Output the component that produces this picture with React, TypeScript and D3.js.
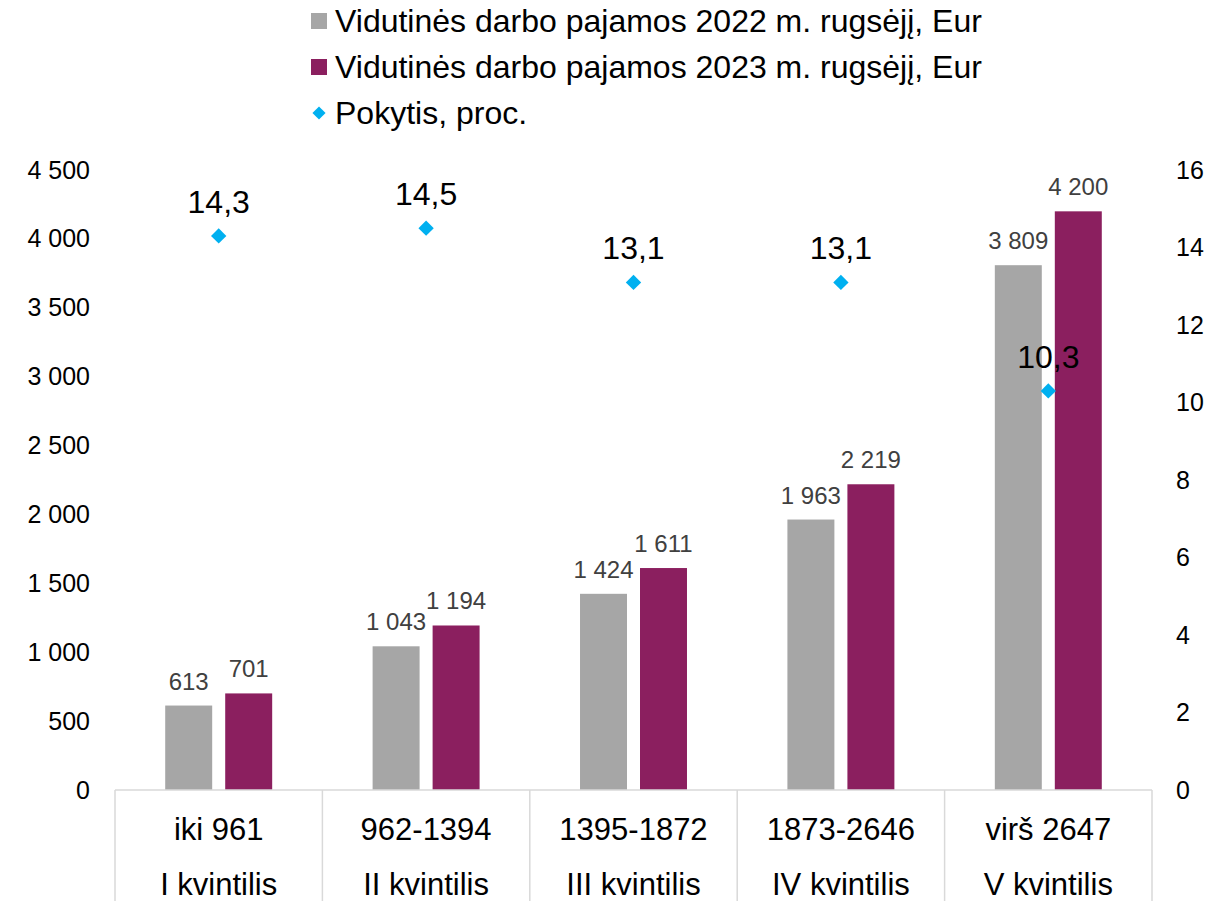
import React, { useEffect, useRef } from 'react';
import * as d3 from 'd3';

// chart data
const ranges = ['iki 961', '962-1394', '1395-1872', '1873-2646', 'virš 2647'];
const quintiles = ['I kvintilis', 'II kvintilis', 'III kvintilis', 'IV kvintilis', 'V kvintilis'];
const income2022 = [613, 1043, 1424, 1963, 3809];
const income2023 = [701, 1194, 1611, 2219, 4200];
const change = [14.3, 14.5, 13.1, 13.1, 10.3];
const leftTicks = [0, 500, 1000, 1500, 2000, 2500, 3000, 3500, 4000, 4500];
const rightTicks = [0, 2, 4, 6, 8, 10, 12, 14, 16];
const seriesNames = ['Vidutinės darbo pajamos 2022 m. rugsėjį, Eur', 'Vidutinės darbo pajamos 2023 m. rugsėjį, Eur'];
const changeName = 'Pokytis, proc.';

const W = 1232;
const H = 901;
const FONT = '"Liberation Sans", Arial, sans-serif';
const GRAY = '#a6a6a6';
const PURPLE = '#8b1f5f';
const CYAN = '#00b0f0';

const lt = d3.formatLocale({ decimal: ',', thousands: ' ', grouping: [3], currency: ['', ' €'] });
const fmtInt = lt.format(',d');
const fmtDec = lt.format('.1f');

export default function App() {
  const ref = useRef<SVGSVGElement>(null);

  useEffect(() => {
    const svg = d3.select(ref.current);
    svg.selectAll('*').remove();

    const x0 = d3.scaleBand().domain(ranges).range([115, 1152]).padding(0);
    const x1 = d3.scaleBand().domain(['a', 'b']).range([0, x0.bandwidth()])
      .paddingInner(0.217).paddingOuter(0.837);
    const y = d3.scaleLinear().domain([0, 4500]).range([790, 170]);
    const y2 = d3.scaleLinear().domain([0, 16]).range([790, 170]);

    // left axis
    const gl = svg.append('g')
      .attr('transform', 'translate(90,0)')
      .call(d3.axisLeft(y).tickValues(leftTicks).tickSize(0).tickPadding(0).tickFormat(d => fmtInt(d as number)));
    gl.select('.domain').remove();
    gl.selectAll('text').attr('font-family', FONT).attr('font-size', 25).attr('fill', '#000');

    // right axis
    const gr = svg.append('g')
      .attr('transform', 'translate(1176,0)')
      .call(d3.axisRight(y2).tickValues(rightTicks).tickSize(0).tickPadding(0).tickFormat(d => String(d)));
    gr.select('.domain').remove();
    gr.selectAll('text').attr('font-family', FONT).attr('font-size', 25).attr('fill', '#000');

    // bars
    const groups = svg.append('g').selectAll('g').data(ranges).enter()
      .append('g')
      .attr('transform', d => `translate(${x0(d)},0)`);

    groups.append('rect')
      .attr('x', x1('a') as number)
      .attr('width', x1.bandwidth())
      .attr('y', (d, i) => y(income2022[i]))
      .attr('height', (d, i) => y(0) - y(income2022[i]))
      .attr('fill', GRAY);

    groups.append('rect')
      .attr('x', x1('b') as number)
      .attr('width', x1.bandwidth())
      .attr('y', (d, i) => y(income2023[i]))
      .attr('height', (d, i) => y(0) - y(income2023[i]))
      .attr('fill', PURPLE);

    groups.append('text')
      .attr('x', (x1('a') as number) + x1.bandwidth() / 2)
      .attr('y', (d, i) => y(income2022[i]) - 16)
      .attr('text-anchor', 'middle')
      .attr('font-family', FONT)
      .attr('font-size', 24)
      .attr('fill', '#404040')
      .text((d, i) => fmtInt(income2022[i]));

    groups.append('text')
      .attr('x', (x1('b') as number) + x1.bandwidth() / 2)
      .attr('y', (d, i) => y(income2023[i]) - 16)
      .attr('text-anchor', 'middle')
      .attr('font-family', FONT)
      .attr('font-size', 24)
      .attr('fill', '#404040')
      .text((d, i) => fmtInt(income2023[i]));

    // category axis box
    const axis = svg.append('g').attr('stroke', '#d9d9d9').attr('stroke-width', 1.5);
    axis.append('line')
      .attr('x1', x0.range()[0]).attr('x2', x0.range()[1])
      .attr('y1', y(0)).attr('y2', y(0));
    axis.selectAll('line.div').data([...ranges.map(d => x0(d) as number), x0.range()[1]]).enter()
      .append('line')
      .attr('class', 'div')
      .attr('x1', d => d).attr('x2', d => d)
      .attr('y1', y(0)).attr('y2', H);

    groups.append('text')
      .attr('x', x0.bandwidth() / 2)
      .attr('y', 840)
      .attr('text-anchor', 'middle')
      .attr('font-family', FONT)
      .attr('font-size', 31)
      .attr('fill', '#000')
      .text(d => d);

    groups.append('text')
      .attr('x', x0.bandwidth() / 2)
      .attr('y', 895)
      .attr('text-anchor', 'middle')
      .attr('font-family', FONT)
      .attr('font-size', 31)
      .attr('fill', '#000')
      .text((d, i) => quintiles[i]);

    // change markers
    const diamond = d3.symbol().type(d3.symbolDiamond2).size(150);
    groups.append('path')
      .attr('d', diamond)
      .attr('transform', (d, i) => `translate(${x0.bandwidth() / 2},${y2(change[i])})`)
      .attr('fill', CYAN);

    groups.append('text')
      .attr('x', x0.bandwidth() / 2)
      .attr('y', (d, i) => y2(change[i]) - 23)
      .attr('text-anchor', 'middle')
      .attr('font-family', FONT)
      .attr('font-size', 32)
      .attr('fill', '#000')
      .text((d, i) => fmtDec(change[i]));

    // legend
    const legend = svg.append('g').attr('transform', 'translate(311,0)');
    const rows = [
      { name: seriesNames[0], color: GRAY, shape: 'rect' },
      { name: seriesNames[1], color: PURPLE, shape: 'rect' },
      { name: changeName, color: CYAN, shape: 'diamond' },
    ];
    const item = legend.selectAll('g').data(rows).enter()
      .append('g')
      .attr('transform', (d, i) => `translate(0,${21 + i * 46})`);
    item.filter(d => d.shape === 'rect').append('rect')
      .attr('x', 0).attr('y', -8).attr('width', 16).attr('height', 16)
      .attr('fill', d => d.color);
    item.filter(d => d.shape === 'diamond').append('path')
      .attr('d', d3.symbol().type(d3.symbolDiamond2).size(110))
      .attr('transform', 'translate(8,0)')
      .attr('fill', d => d.color);
    item.append('text')
      .attr('x', 24)
      .attr('y', 11)
      .attr('font-family', FONT)
      .attr('font-size', 32)
      .attr('fill', '#000')
      .text(d => d.name);
  }, []);

  return (
    <svg ref={ref} width={W} height={H} style={{ position: 'absolute', left: 0, top: 0, background: '#fff' }} />
  );
}
